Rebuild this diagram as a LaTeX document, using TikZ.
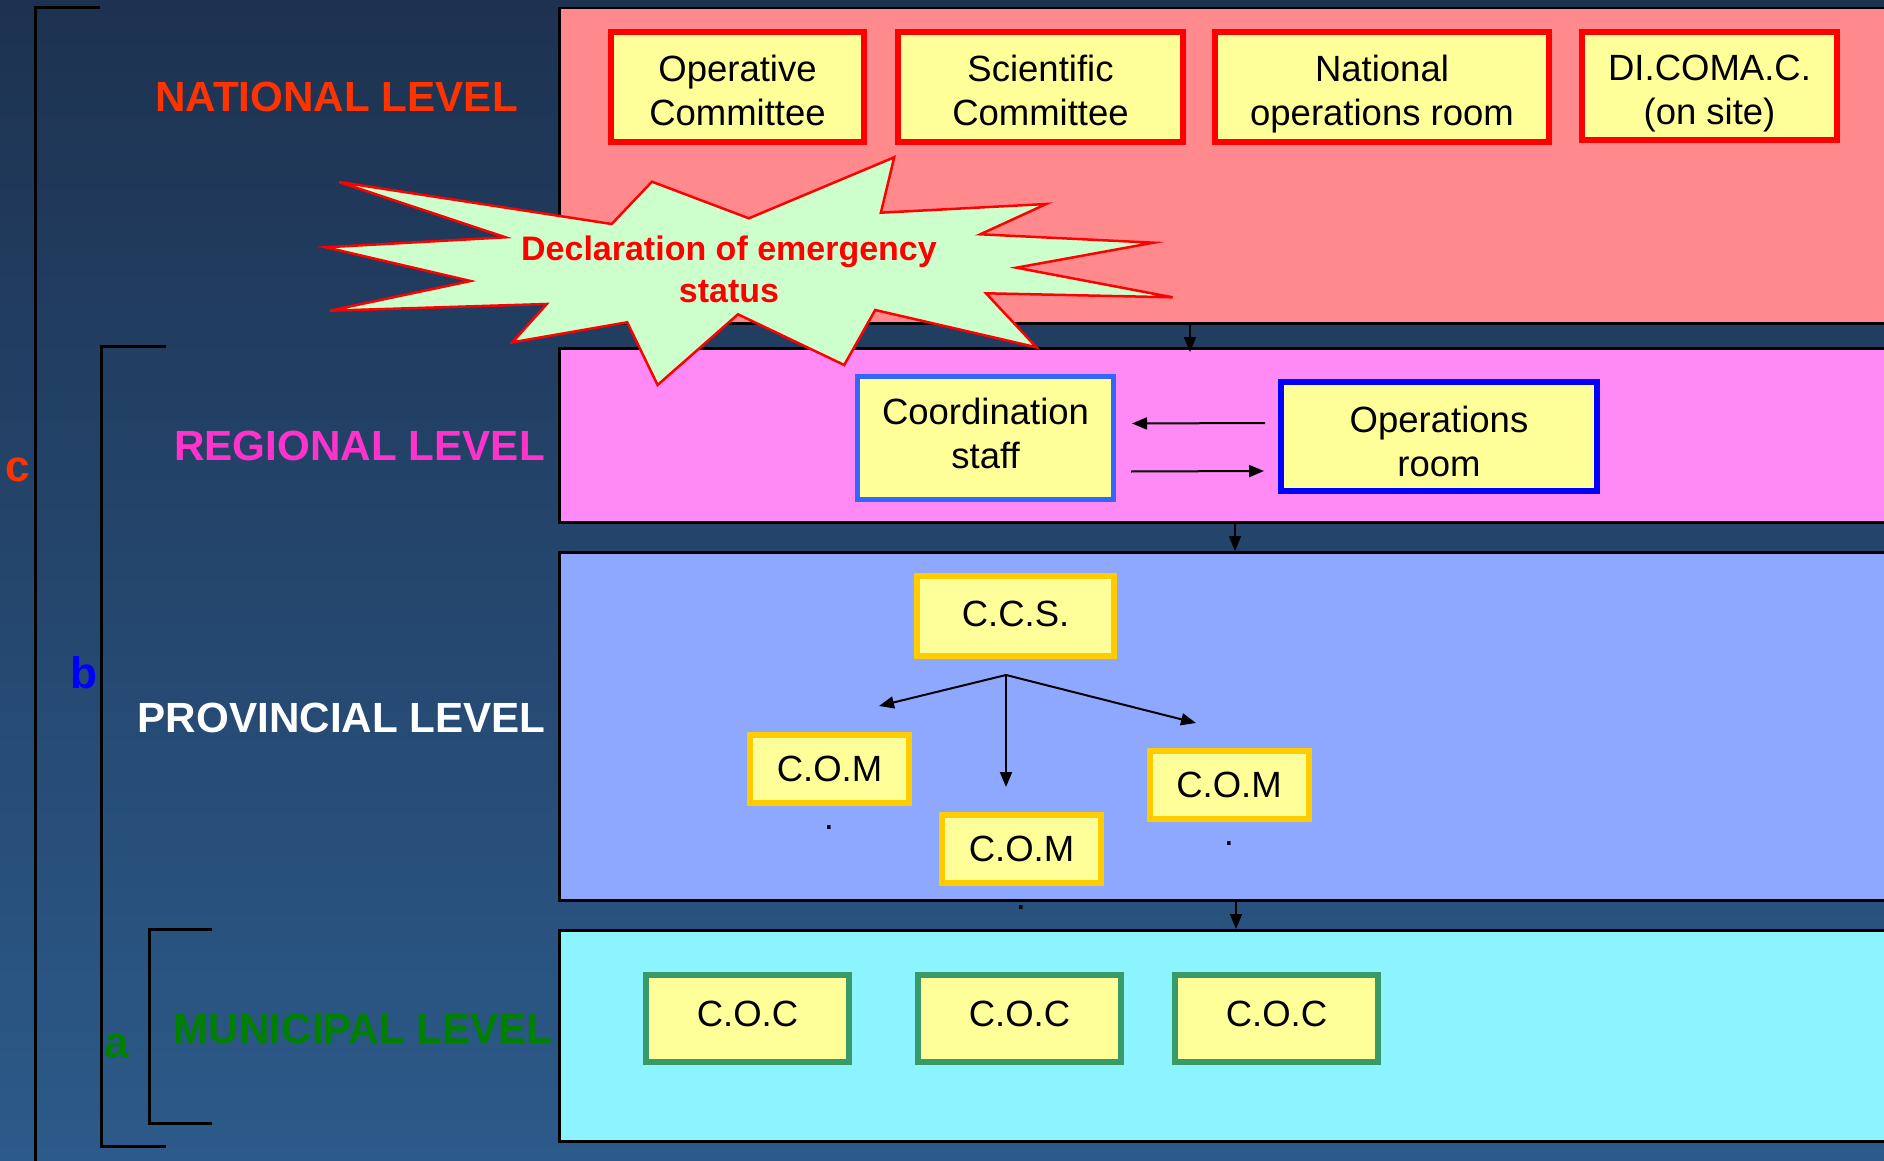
\documentclass[tikz,border=0pt]{standalone}
\usepackage{fontspec}
\setmainfont{Liberation Sans}
\usetikzlibrary{arrows.meta}
\definecolor{bgTop}{RGB}{29,50,80}
\definecolor{bgBot}{RGB}{44,90,138}
\definecolor{natc}{RGB}{255,138,142}
\definecolor{regc}{RGB}{255,138,245}
\definecolor{proc}{RGB}{143,168,255}
\definecolor{munc}{RGB}{140,244,255}
\definecolor{boxc}{RGB}{255,255,153}
\definecolor{burstc}{RGB}{204,255,204}
\definecolor{natred}{RGB}{255,51,0}
\definecolor{regpink}{RGB}{255,51,204}
\definecolor{mungreen}{RGB}{0,128,0}
\definecolor{redb}{RGB}{255,0,0}
\definecolor{blueba}{RGB}{51,102,255}
\definecolor{bluebb}{RGB}{0,0,255}
\definecolor{goldb}{RGB}{255,204,0}
\definecolor{greenb}{RGB}{56,154,104}
\newcommand{\myTopStrut}[1]{\rule{0pt}{#1}}
\newcommand{\myBotStrut}[1]{\rule[-#1]{0pt}{#1}}
\begin{document}
\begin{tikzpicture}[x=1pt,y=-1pt,
  panel/.style={draw=black,line width=2.5pt,rectangle,inner sep=0pt,anchor=north west,minimum width=1400pt},
  lvl/.style={font=\fontsize{42.2}{50}\selectfont\bfseries,inner sep=0pt,anchor=base east},
  letter/.style={font=\fontsize{44}{50}\selectfont\bfseries,inner sep=0pt,anchor=base},
  box/.style={draw,rectangle,line width=6pt,fill=boxc,align=center,inner sep=0pt,
    font=\fontsize{36.5}{44}\selectfont},
  natbox/.style={box,draw=redb,minimum height=110pt},
  ccsbox/.style={box,draw=goldb},
  combox/.style={box,draw=goldb,minimum width=159pt,minimum height=68pt},
  cocbox/.style={box,draw=greenb,minimum width=203pt,minimum height=87pt},
  arr/.style={line width=2pt,-{Triangle[length=15pt,width=12pt]}},
  brk/.style={line width=3pt,black},
  dotnode/.style={font=\fontsize{36.5}{44}\selectfont,inner sep=0pt,anchor=base}
]
\useasboundingbox (0,0) rectangle (1884,1161);
\shade[top color=bgTop,bottom color=bgBot] (0,0) rectangle (1884,1161);

% brackets
\draw[brk] (100,8) -- (35,8) -- (35,1170);
\draw[brk] (166,346) -- (101,346) -- (101,1146) -- (166,1146);
\draw[brk] (212,929) -- (149,929) -- (149,1123) -- (212,1123);
\node[letter,text=natred] (lc) at (18,481) {c};
\node[letter,text=bluebb] (lb) at (84,688) {b};
\node[letter,text=mungreen] (la) at (117,1057) {a};

% panels
\node[panel,fill=natc,minimum height=315pt] (nat) at (558,7) {};
\node[panel,fill=regc,minimum height=174pt] (reg) at (558,347) {};
\node[panel,fill=proc,minimum height=348pt] (pro) at (558,551) {};
\node[panel,fill=munc,minimum height=211pt] (mun) at (558,929) {};

% level labels
\node[lvl,text=natred] (lnat) at (518,112) {NATIONAL LEVEL};
\node[lvl,text=regpink] (lreg) at (545,460) {REGIONAL LEVEL};
\node[lvl,text=white] (lpro) at (546,732) {PROVINCIAL LEVEL};
\node[lvl,text=mungreen] (lmun) at (553,1043) {MUNICIPAL LEVEL};

% national boxes
\node[natbox,minimum width=253pt] (opc) at (737.5,87) {\myTopStrut{41.8pt}Operative\\Committee\myBotStrut{9pt}};
\node[natbox,minimum width=285pt] (scc) at (1040.5,87) {\myTopStrut{41.8pt}Scientific\\Committee\myBotStrut{9pt}};
\node[natbox,minimum width=334pt] (nor) at (1382,87) {\myTopStrut{41.8pt}National\\operations room\myBotStrut{9pt}};
\node[natbox,minimum width=255pt,minimum height=108pt] (dic) at (1709.5,86) {\myTopStrut{41.8pt}DI.COMA.C.\\(on site)\myBotStrut{9pt}};

% regional boxes
\node[box,draw=blueba,line width=5pt,minimum width=256pt,minimum height=123pt] (cst) at (985.5,438) {\myTopStrut{27pt}Coordination\\staff\myBotStrut{10pt}};
\node[box,draw=bluebb,minimum width=316pt,minimum height=109pt] (opr) at (1439,436.5) {\myTopStrut{44pt}Operations\\room\myBotStrut{9pt}};
\draw[arr] ([xshift=-13pt,yshift=13.5pt]opr.west) -- ([xshift=16pt,yshift=14.5pt]cst.east);
\draw[arr] ([xshift=15pt,yshift=-33.5pt]cst.east) -- ([xshift=-14pt,yshift=-34.5pt]opr.west);

% provincial
\node[ccsbox,minimum width=197pt,minimum height=80pt] (ccs) at (1015.5,616) {C.C.S.\myBotStrut{5pt}};
\node[combox] (com1) at (829.5,769) {C.O.M};
\node[combox] (com2) at (1021.5,849) {C.O.M};
\node[combox] (com3) at (1229,785) {C.O.M};
\node[dotnode] (d1) at (829,829) {.};
\node[dotnode] (d2) at (1021,909) {.};
\node[dotnode] (d3) at (1229,845) {.};
\coordinate (fork) at (1006,675);
\coordinate (tl) at (879,706);
\coordinate (tm) at (1006,787);
\coordinate (tr) at (1196,723);
\draw[arr] (fork) -- (tl);
\draw[arr] (fork) -- (tm);
\draw[arr] (fork) -- (tr);

% municipal
\node[cocbox] (coc1) at (747.5,1018.5) {C.O.C\myBotStrut{9.6pt}};
\node[cocbox] (coc2) at (1019.5,1018.5) {C.O.C\myBotStrut{9.6pt}};
\node[cocbox] (coc3) at (1276.5,1018.5) {C.O.C\myBotStrut{9.6pt}};

% level arrows
\draw[arr] (nat.south -| 1190,0) -- ([yshift=-5pt]reg.north -| 1190,0);
\draw[arr] (reg.south -| 1235,0) -- (pro.north -| 1235,0);
\draw[arr] (pro.south -| 1236,0) -- (mun.north -| 1236,0);

% starburst
\draw[draw=redb,line width=2.5pt,fill=burstc,line join=miter]
  (339,182) -- (611.7,224) -- (651.9,181.7) -- (748.9,218.3) -- (894.2,157.3)
  -- (880.9,212.7) -- (1046.3,204) -- (980.3,234.3) -- (1153.6,242.7)
  -- (1016.4,267.7) -- (1172.6,297.3) -- (986,293.3) -- (1036.5,347.3)
  -- (875.2,310) -- (844.2,365) -- (738,314.3) -- (657.6,385)
  -- (627.2,322.3) -- (512.4,342.3) -- (546.8,304) -- (329.9,310.7)
  -- (470.5,281) -- (325.8,247.3) -- (505.5,237.3) -- cycle;
\node[align=center,text=redb,inner sep=0pt,font=\fontsize{34}{42}\selectfont\bfseries] (decl) at (729,269) {Declaration of emergency\\status};
\end{tikzpicture}
\end{document}
